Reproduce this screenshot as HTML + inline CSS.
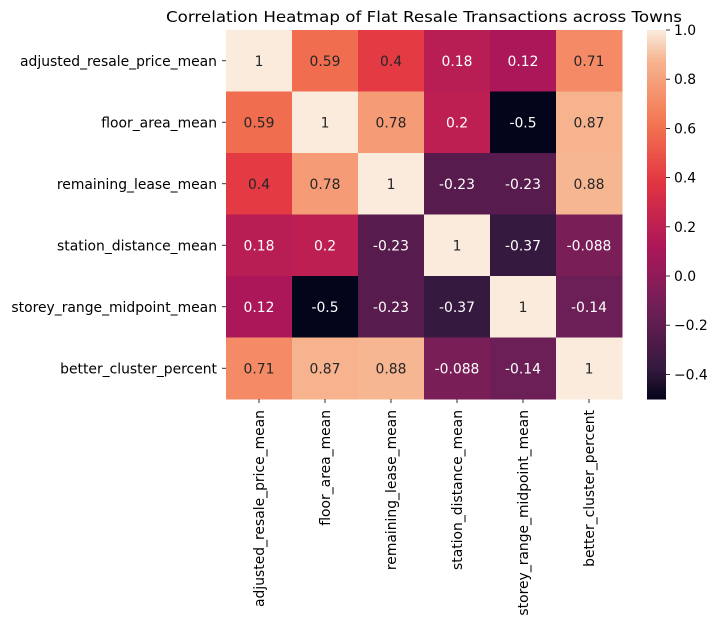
<!DOCTYPE html>
<html><head><meta charset="utf-8"><style>
body{margin:0;background:#fff;}
svg{display:block;font-family:"DejaVu Sans","Liberation Sans",sans-serif;}
</style></head><body>
<svg id="chart" width="719" height="625" xmlns="http://www.w3.org/2000/svg">
<rect width="719" height="625" fill="#fff"/>
<text x="424" y="22" font-size="15.5" text-anchor="middle" fill="#000" textLength="516" lengthAdjust="spacingAndGlyphs">Correlation Heatmap of Flat Resale Transactions across Towns</text>
<g id="cells"></g><g id="ylabels"></g><g id="xlabels"></g><g id="cbar"></g>
</svg>
<script>
const labels = ["adjusted_resale_price_mean","floor_area_mean","remaining_lease_mean","station_distance_mean","storey_range_midpoint_mean","better_cluster_percent"];
const row0 = [1,0.59,0.4,0.18,0.12,0.71];
const row1 = [0.59,1,0.78,0.2,-0.5,0.87];
const row2 = [0.4,0.78,1,-0.23,-0.23,0.88];
const row3 = [0.18,0.2,-0.23,1,-0.37,-0.088];
const row4 = [0.12,-0.5,-0.23,-0.37,1,-0.14];
const row5 = [0.71,0.87,0.88,-0.088,-0.14,1];
const matrix = [row0,row1,row2,row3,row4,row5];
const cbTicks = [-0.4,-0.2,0.0,0.2,0.4,0.6,0.8,1.0];
const vmin=-0.5, vmax=1.0;
const X0=226, X1=622, Y0=30, Y1=399;
const FS=13.9;
const cw=(X1-X0)/labels.length, ch=(Y1-Y0)/labels.length;
const stops=[[0,[3,5,26]],[0.083,[53,25,62]],[0.25,[112,31,87]],[0.417,[173,23,89]],[0.583,[225,51,66]],[0.75,[243,118,81]],[0.917,[246,180,143]],[1,[250,235,221]]];
function color(v){let t=Math.max(0,Math.min(1,(v-vmin)/(vmax-vmin)));
 for(let i=1;i<stops.length;i++){if(t<=stops[i][0]){const a=stops[i-1],b=stops[i],f=(t-a[0])/(b[0]-a[0]);
 return 'rgb('+a[1].map((c,k)=>Math.round(c+(b[1][k]-c)*f)).join(',')+')';}}return 'rgb(250,235,221)';}
function xs(j){return X0+j*cw;} function ys(i){return Y0+i*ch;}
function cy(v){return Y1-(v-vmin)/(vmax-vmin)*(Y1-Y0);}
const NS="http://www.w3.org/2000/svg";
function mk(tag,attrs,parent){const e=document.createElementNS(NS,tag);for(const k in attrs)e.setAttribute(k,attrs[k]);parent.appendChild(e);return e;}
const cells=document.getElementById('cells');
matrix.forEach((row,i)=>row.forEach((v,j)=>{
 const r=mk('rect',{x:xs(j),y:ys(i),width:cw+0.5,height:ch+0.5,fill:color(v)},cells);
 
 
 const t=mk('text',{x:xs(j)+cw/2,y:ys(i)+ch/2+5,'font-size':FS,'text-anchor':'middle',fill:v>=0.3?'#262626':'#fff'},cells);
 t.textContent=String(v);
 
 
}));
const yl=document.getElementById('ylabels'), xl=document.getElementById('xlabels');
labels.forEach((l,i)=>{
 const c=ys(i)+ch/2;
 mk('line',{x1:X0-4,x2:X0,y1:c,y2:c,stroke:'#000','stroke-width':0.8},yl);
 const t=mk('text',{x:X0-9,y:c+5,'font-size':FS,'text-anchor':'end',fill:'#000'},yl);
 t.textContent=l;
 
 
 const cx=xs(i)+cw/2;
 mk('line',{x1:cx,x2:cx,y1:Y1,y2:Y1+4,stroke:'#000','stroke-width':0.8},xl);
 const u=mk('text',{x:0,y:0,'font-size':FS,'text-anchor':'end',fill:'#000',transform:'translate('+(cx+5)+','+(Y1+11)+') rotate(-90)'},xl);
 u.textContent=l;
 
 
});
const cb=document.getElementById('cbar');
const CX=647, CW=19;
for(let k=0;k<200;k++){const v0=vmin+(vmax-vmin)*k/200, v1=vmin+(vmax-vmin)*(k+1)/200;
 mk('rect',{x:CX,y:cy(v1),width:CW,height:cy(v0)-cy(v1)+0.5,fill:color((v0+v1)/2)},cb);}
const cbr=mk('rect',{x:CX,y:Y0,width:CW,height:Y1-Y0,fill:'none'},cb);


cbTicks.forEach(v=>{const y=cy(v);
 mk('line',{x1:CX+CW,x2:CX+CW+4,y1:y,y2:y,stroke:'#000','stroke-width':0.8},cb);
 const t=mk('text',{x:CX+CW+8,y:y+5,'font-size':FS,fill:'#000'},cb);
 t.textContent=v.toFixed(1).replace('-','\u2212');
 
 
});
</script>
</body></html>
